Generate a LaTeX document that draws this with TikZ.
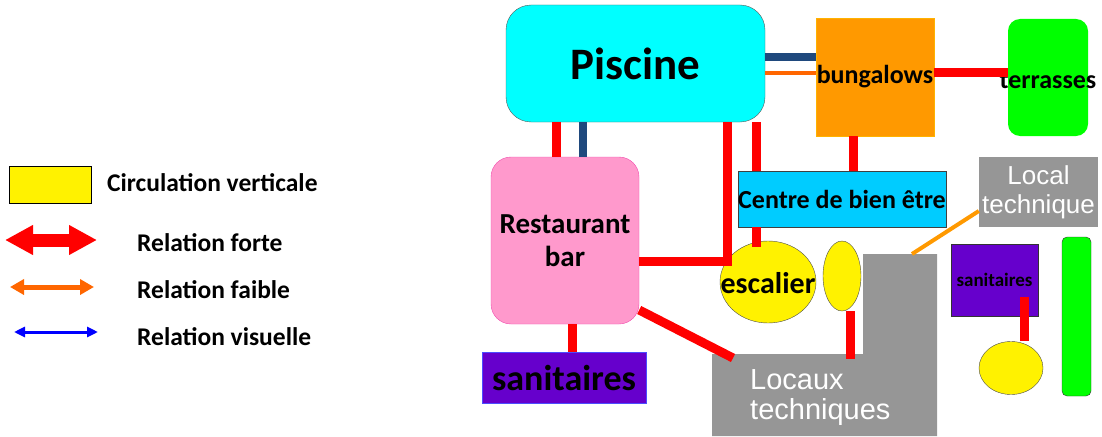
\documentclass[tikz,border=0pt]{standalone}
\usepackage{fontspec}
\setmainfont{Carlito}
\newfontfamily\arialfont{Liberation Sans}
\usetikzlibrary{arrows.meta,shapes.geometric}
\definecolor{cyanpisc}{HTML}{00FFFF}
\definecolor{orangebung}{HTML}{FF9900}
\definecolor{orangelien}{HTML}{FF6600}
\definecolor{bleulien}{HTML}{1F497D}
\definecolor{bleucentre}{HTML}{00CCFF}
\definecolor{roseresto}{HTML}{FF99CC}
\definecolor{violetsan}{HTML}{6600CC}
\definecolor{grisloc}{HTML}{969696}
\definecolor{vertterr}{HTML}{00FF00}

\begin{document}
\begin{tikzpicture}[x=1pt, y=-1pt,
		bloc/.style={inner sep=0pt, align=center, font=\bfseries\fontsize{26}{30}\selectfont},
		rond/.style={ellipse, draw=gray!60!black, fill=yellow, inner sep=0pt},
		forte/.style={draw=red, line width=9pt},
		faible/.style={draw=orangelien, line width=4pt},
		visuelle/.style={draw=bleulien, line width=8pt},
		legende/.style={anchor=west, inner sep=0pt, font=\bfseries\fontsize{25.5}{30}\selectfont}]
	\useasboundingbox (0,0) rectangle (1102,436);

	\node[draw=black, line width=1.5pt, fill=yellow, minimum width=82pt, minimum height=37pt] (legcirc) at (50.5,185) {};
	\node[legende] (txtcirc) at (107,183) {Circulation verticale};
	\coordinate (fortea) at (5,240);
	\coordinate (forteb) at (97,240);
	\draw[red, line width=13pt, {Triangle[length=28pt,width=28pt]}-{Triangle[length=28pt,width=28pt]}] (fortea) -- (forteb);
	\node[legende] (txtforte) at (137,243) {Relation forte};
	\coordinate (faiblea) at (10,287);
	\coordinate (faibleb) at (94,287);
	\draw[orangelien, line width=5pt, {Triangle[length=14pt,width=15pt]}-{Triangle[length=14pt,width=15pt]}] (faiblea) -- (faibleb);
	\node[legende] (txtfaible) at (137,290) {Relation faible};
	\coordinate (visa) at (14,332);
	\coordinate (visb) at (98,332);
	\draw[blue, line width=3pt, {Triangle[length=11pt,width=10pt]}-{Triangle[length=11pt,width=10pt]}] (visa) -- (visb);
	\node[legende] (txtvis) at (137,337) {Relation visuelle};

	\node[bloc, draw=gray!70!black, fill=cyanpisc, rounded corners=25pt, minimum width=259pt, minimum height=117pt, font=\bfseries\fontsize{45}{50}\selectfont] (piscine) at (635.5,63.5) {Piscine};
	\node[bloc, draw=orange!60!yellow, fill=orangebung, minimum width=118pt, minimum height=118pt] (bung) at (875,77) {bungalows};
	\node[bloc, fill=vertterr, rounded corners=12pt, minimum width=80pt, minimum height=117pt] (terr) at (1048,77.5) {};
	\node[bloc, anchor=center] (txtterr) at (1048,80) {terrasses};
	\node[bloc, draw=gray!50!black, fill=bleucentre, minimum width=202pt, minimum height=56pt, font=\bfseries\fontsize{26}{30}\selectfont] (centre) at (842,199) {Centre de bien être};
	\node[bloc, draw=magenta!70, fill=roseresto, rounded corners=20pt, minimum width=148pt, minimum height=167pt, font=\bfseries\fontsize{29}{33}\selectfont] (resto) at (565,240.5) {Restaurant\\bar};
	\node[bloc, draw=blue!70, fill=violetsan, minimum width=164pt, minimum height=51pt, font=\bfseries\fontsize{36}{40}\selectfont] (sanit) at (564,377.5) {sanitaires};
	\node[rond, minimum width=96pt, minimum height=82pt] (esc) at (768,282) {};
	\node[bloc, font=\bfseries\fontsize{30}{32}\selectfont] (txtesc) at (768,283) {escalier};
	\node[rond, minimum width=38pt, minimum height=70pt] (petitesc) at (842,276) {};
	\fill[grisloc] (712,354) -- (863,354) -- (863,254) -- (937,254) -- (937,436) -- (712,436) -- cycle;
	\coordinate (locauxhaut) at (912,254);
	\coordinate (locauxgauche) at (733,358);
	\node[text=white, align=left, anchor=west, inner sep=0pt, font=\arialfont\fontsize{29}{30}\selectfont] (locaux) at (750,398) {Locaux\\techniques};
	\node[fill=grisloc, text=white, align=center, inner sep=0pt, minimum width=119pt, minimum height=70pt, font=\arialfont\fontsize{26}{29}\selectfont] (loctech) at (1038.5,192) {Local\\technique};
	\node[bloc, draw=gray!40!black, fill=violetsan, minimum width=87pt, minimum height=72pt, font=\bfseries\fontsize{19}{22}\selectfont] (sanit2) at (994.5,280) {sanitaires};
	\node[rond, minimum width=64pt, minimum height=53pt] (petitesc2) at (1011,368) {};
	\node[draw=gray!40!black, fill=vertterr, rounded corners=5pt, minimum width=29pt, minimum height=159pt] (vert) at (1076.5,316.5) {};

	\draw[visuelle] (piscine.east |- 0,57) -- (bung.west |- 0,57);
	\draw[faible] (piscine.east |- 0,73) -- (bung.west |- 0,73);
	\draw[forte] (bung.east |- 0,72.5) -- (terr.west |- 0,72.5);
	\draw[forte] (bung.south -| 853,0) -- (centre.north -| 853,0);
	\draw[forte] (piscine.south -| 556,0) -- (resto.north -| 556,0);
	\draw[visuelle] (piscine.south -| 583,0) -- (resto.north -| 583,0);
	\draw[forte] (piscine.south -| 756,0) -- (centre.north -| 756,0);
	\draw[forte, shorten >=-6pt] (centre.south -| 756,0) -- (esc.north -| 756,0);
	\draw[forte] (piscine.south -| 727,0) |- ([yshift=-20.5pt]resto.east);
	\draw[forte] (resto.south -| 572,0) -- (sanit.north -| 572,0);
	\draw[forte] ([yshift=-69.5pt]resto.east) -- (locauxgauche);
	\draw[forte, shorten >=-5pt] (petitesc.south -| 850,0) -- (850,354);
	\draw[orangebung, line width=4pt] ([yshift=-19pt]loctech.west) -- (locauxhaut);
	\draw[forte, shorten <=-19pt] (sanit2.south -| 1024,0) -- (petitesc2.north -| 1024,0);
\end{tikzpicture}
\end{document}
